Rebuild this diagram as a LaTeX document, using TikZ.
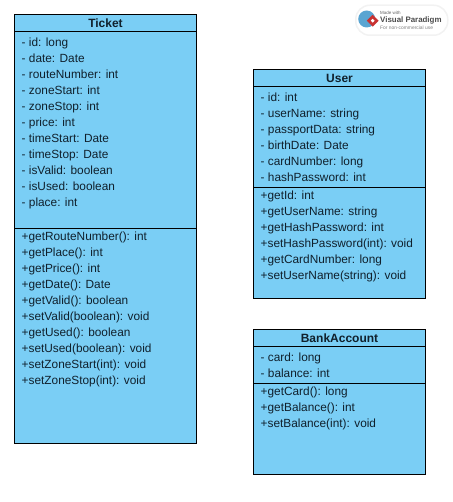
\documentclass[tikz,border=0pt]{standalone}
\usepackage{fontspec}
\setmainfont{Liberation Sans}
\usepackage{xcolor}
\usetikzlibrary{arrows.meta, positioning, shapes.geometric}
\definecolor{classblue}{RGB}{122, 206, 245}
\definecolor{classtext}{RGB}{16, 32, 44}
\definecolor{globeblue}{RGB}{90, 165, 210}
\definecolor{vpred}{RGB}{200, 50, 50}
\tikzset{
  titlebox/.style={rectangle, draw=black, fill=classblue, line width=0.9pt, inner sep=0pt, outer sep=0pt,
              minimum height=17pt, align=center, font=\fontsize{12}{16}\selectfont\bfseries, text=classtext},
  membox/.style={rectangle, draw=black, fill=classblue, line width=0.9pt, inner sep=0pt, outer sep=0pt},
  memtext/.style={inner sep=0pt, align=left, anchor=north west, text=classtext,
              font=\fontsize{11.85}{16}\selectfont},
}
\begin{document}
\begin{tikzpicture}[x=1pt, y=-1pt, node distance=0pt]
    \useasboundingbox (0,0) rectangle (452,502);

    % Ticket
    \node[titlebox, minimum width=182pt, anchor=north west] (ticket) at (14.5,14.5) {Ticket};
    \node[membox, minimum width=182pt, minimum height=197pt, below=of ticket] (ticketattr) {};
    \node[membox, minimum width=182pt, minimum height=214.5pt, below=of ticketattr] (ticketops) {};
    \node[memtext, below right=6.3pt and 7pt of ticketattr.north west] (ticketattrtxt)
        {- id: long\\ - date: Date\\ - routeNumber: int\\ - zoneStart: int\\ - zoneStop: int\\ - price: int\\
         - timeStart: Date\\ - timeStop: Date\\ - isValid: boolean\\ - isUsed: boolean\\ - place: int};
    \node[memtext, below right=3.4pt and 7pt of ticketops.north west] (ticketopstxt)
        {+getRouteNumber(): int\\ +getPlace(): int\\ +getPrice(): int\\ +getDate(): Date\\ +getValid(): boolean\\
         +setValid(boolean): void\\ +getUsed(): boolean\\ +setUsed(boolean): void\\ +setZoneStart(int): void\\ +setZoneStop(int): void};

    % User
    \node[titlebox, minimum width=172pt, anchor=north west] (user) at (253.5,69.5) {User};
    \node[membox, minimum width=172pt, minimum height=100.5pt, below=of user] (userattr) {};
    \node[membox, minimum width=172pt, minimum height=111pt, below=of userattr] (userops) {};
    \node[memtext, below right=6.3pt and 7pt of userattr.north west] (userattrtxt)
        {- id: int\\ - userName: string\\ - passportData: string\\ - birthDate: Date\\ - cardNumber: long\\ - hashPassword: int};
    \node[memtext, below right=3.4pt and 7pt of userops.north west] (useropstxt)
        {+getId: int\\ +getUserName: string\\ +getHashPassword: int\\ +setHashPassword(int): void\\ +getCardNumber: long\\ +setUserName(string): void};

    % BankAccount
    \node[titlebox, minimum width=172pt, anchor=north west] (bank) at (253.5,329.5) {BankAccount};
    \node[membox, minimum width=172pt, minimum height=36.5pt, below=of bank] (bankattr) {};
    \node[membox, minimum width=172pt, minimum height=91pt, below=of bankattr] (bankops) {};
    \node[memtext, below right=6.3pt and 7pt of bankattr.north west] (bankattrtxt)
        {- card: long\\ - balance: int};
    \node[memtext, below right=3.4pt and 7pt of bankops.north west] (bankopstxt)
        {+getCard(): long\\ +getBalance(): int\\ +setBalance(int): void};

    % badge
    \node[rectangle, rounded corners=14pt, draw=black!5, line width=1.5pt, fill=white,
          minimum width=92pt, minimum height=30pt, anchor=north west] (badge) at (355,4.5) {};
    \node[circle, fill=globeblue, minimum size=17pt, inner sep=0pt] (globe) at (366.7,19) {};
    \node[diamond, fill=vpred, minimum size=12pt, inner sep=0pt] (logo) at (372.7,20.7) {};
    \node[diamond, fill=white, minimum size=4pt, inner sep=0pt] (logomid) at (372.7,20.7) {};
    \node[inner sep=0pt, anchor=west, font=\fontsize{4.5}{5}\selectfont, text=black!60] (madewith) at (380,12.5) {Made with};
    \node[inner sep=0pt, anchor=west, font=\fontsize{7.9}{9}\selectfont\bfseries, text=black!70] (vpname) at (380,20) {Visual Paradigm};
    \node[inner sep=0pt, anchor=west, font=\fontsize{4.9}{5}\selectfont, text=black!50] (forncu) at (380,27.5) {For non-commercial use};
\end{tikzpicture}
\end{document}
